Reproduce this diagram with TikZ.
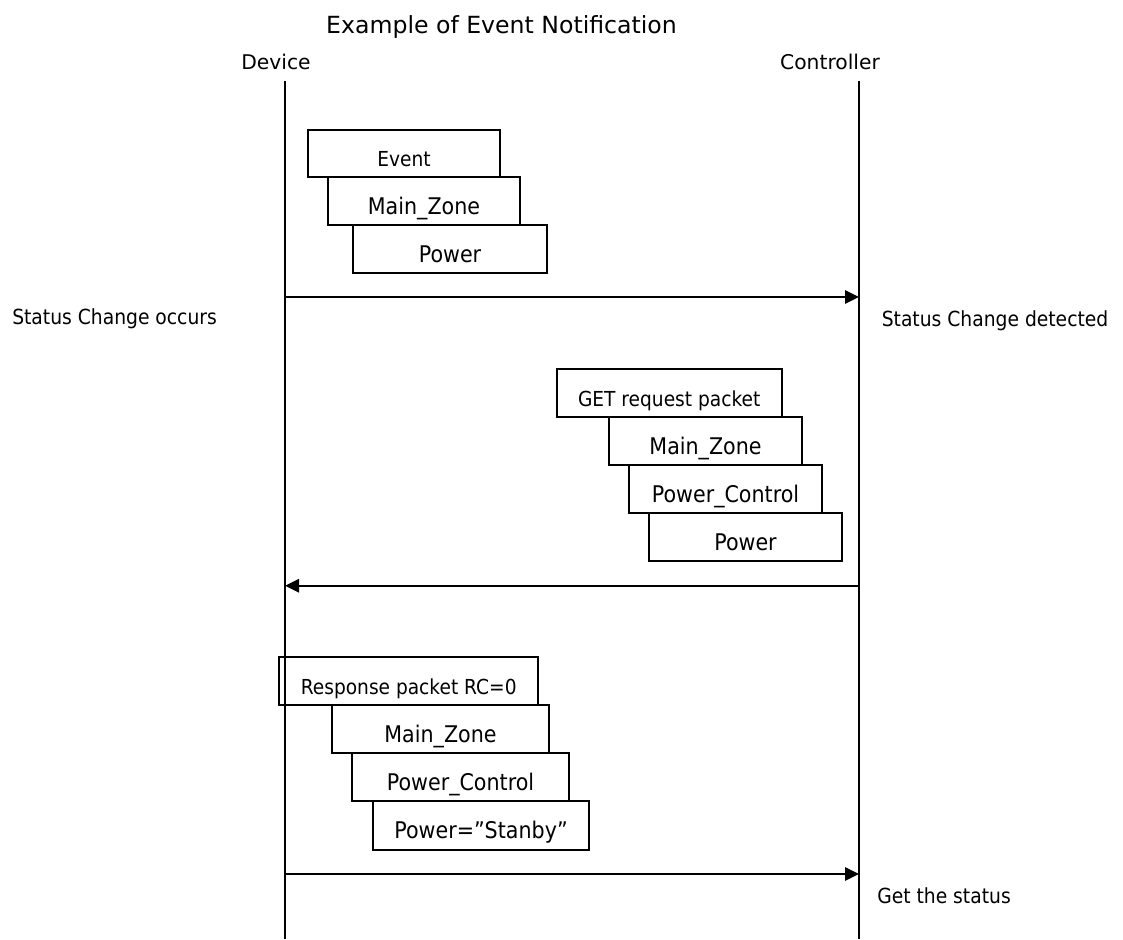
\documentclass[tikz,border=0pt]{standalone}
\usepackage{fontspec}
\setmainfont{DejaVu Sans}
\newfontfamily\narrowfont[FakeStretch=0.9]{DejaVu Sans}
\usetikzlibrary{arrows.meta}
\def\u{0.75pt}
\tikzset{
  lifeline/.style={line width=1.5pt},
  msg/.style={line width=1.5pt,-{Triangle[length=10.5pt,width=10pt]}},
  pkt/.style 2 args={draw,line width=1.5pt,rectangle,inner sep=0pt,
    minimum width={#1*\u},minimum height={#2*\u},
    text height=19.5pt,text depth=0pt},
  big/.style={font=\narrowfont\fontsize{17.2pt}{20pt}\selectfont},
  small/.style={font=\narrowfont\fontsize{15.5pt}{18pt}\selectfont},
  who/.style={font=\fontsize{15.2pt}{18pt}\selectfont,anchor=base,inner sep=0pt},
  note/.style={font=\narrowfont\fontsize{15.6pt}{18pt}\selectfont,anchor=base west,inner sep=0pt},
}
\begin{document}
\begin{tikzpicture}[x=\u,y=-\u]
\useasboundingbox (0,0) rectangle (1123,939);

% title and participants
\node[font=\fontsize{17.7pt}{21pt}\selectfont,anchor=base,inner sep=0pt] (title) at (501.5,33) {Example of Event Notification};
\node[who] (dev) at (276,69) {Device};
\node[who] (ctl) at (830,69) {Controller};

% lifelines
\coordinate (devTop) at (285,81);
\coordinate (devBot) at (285,939);
\coordinate (ctlTop) at (859,81);
\coordinate (ctlBot) at (859,939);
\draw[lifeline] (devTop) -- (devBot);
\draw[lifeline] (ctlTop) -- (ctlBot);

% event notification packet
\node[pkt={192}{47},small] (ev) at (404,153.5) {Event};
\node[pkt={192}{48},big] (mz1) at (424,201) {Main\_Zone};
\node[pkt={194}{48},big] (pw1) at (450,249) {Power};

\coordinate (m1s) at (285,297);
\coordinate (m1e) at (859,297);
\draw[msg] (m1s) -- (m1e);
\node[note] (occ) at (12,324.3) {Status Change occurs};
\node[note] (det) at (881.5,326.7) {Status Change detected};

% GET request packet
\node[pkt={225}{48},small] (get) at (669.2,393) {GET request packet};
\node[pkt={193}{48},big] (mz2) at (705.5,441) {Main\_Zone};
\node[pkt={193}{48},big] (pc2) at (725.5,489) {Power\_Control};
\node[pkt={193}{48},big] (pw2) at (745.5,537) {Power};

\coordinate (m2s) at (859,585.7);
\coordinate (m2e) at (285,585.7);
\draw[msg] (m2s) -- (m2e);

% response packet
\node[pkt={259}{48},small] (rsp) at (408.7,681) {Response packet RC=0};
\node[pkt={217}{48},big] (mz3) at (440.5,729) {Main\_Zone};
\node[pkt={217}{48},big] (pc3) at (460.5,777) {Power\_Control};
\node[pkt={216}{49},big] (pw3) at (481,825.5) {Power=”Stanby”};

\coordinate (m3s) at (285,874);
\coordinate (m3e) at (859,874);
\draw[msg] (m3s) -- (m3e);
\node[note] (got) at (877,903.3) {Get the status};
\end{tikzpicture}
\end{document}
